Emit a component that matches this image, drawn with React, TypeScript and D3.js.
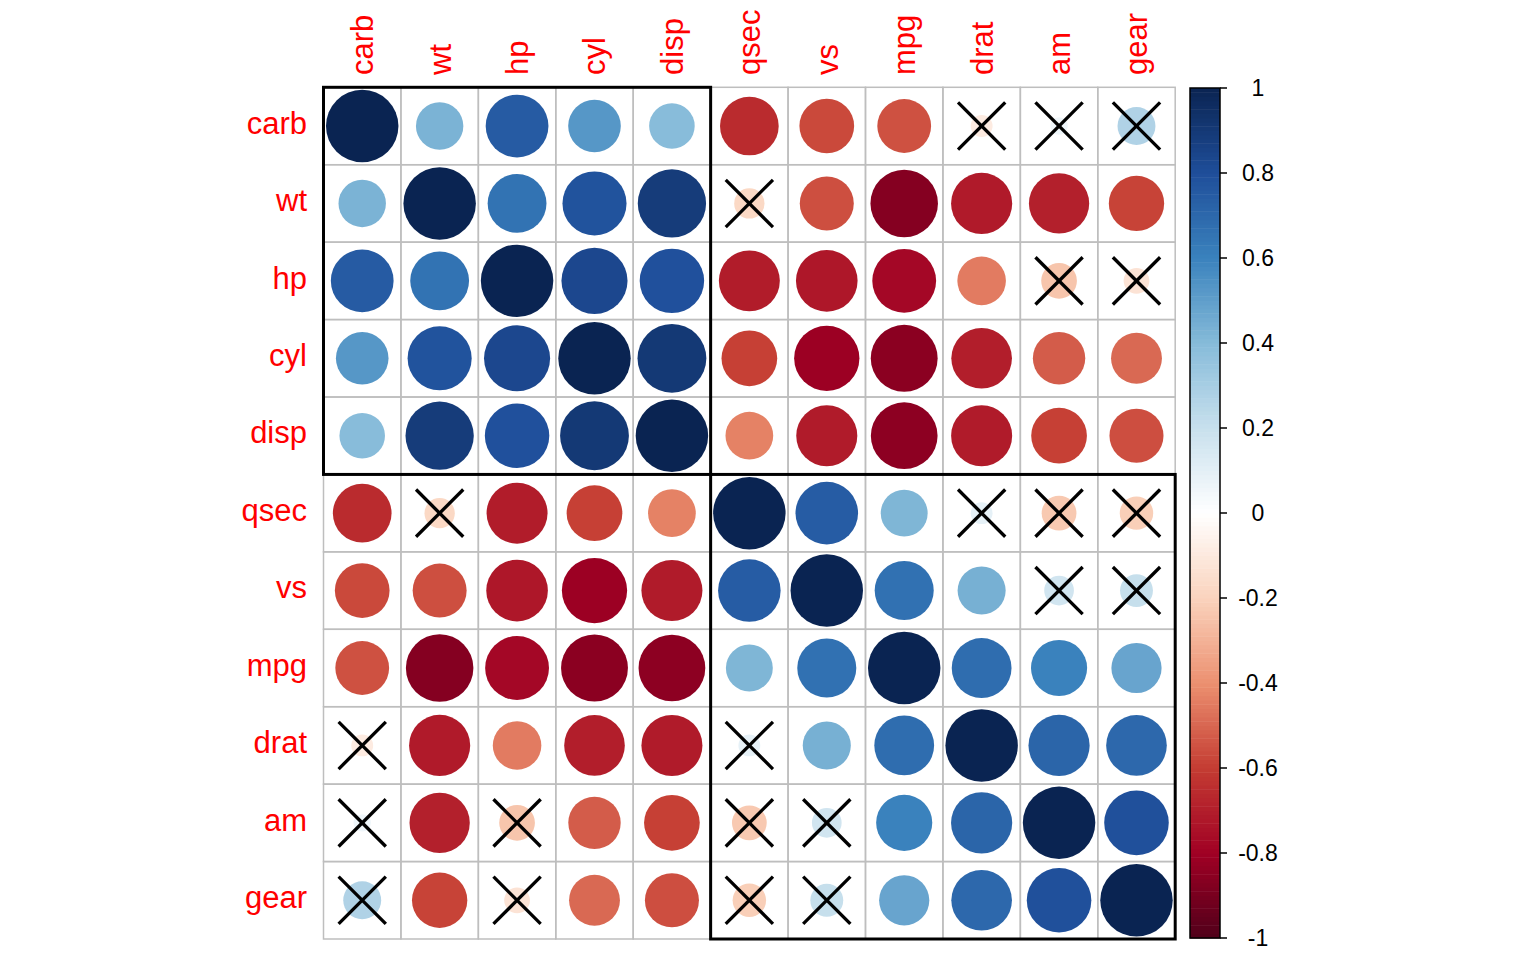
import React from "react"
import * as d3 from "d3"

// variables in hclust order
const vars = ["carb", "wt", "hp", "cyl", "disp", "qsec", "vs", "mpg", "drat", "am", "gear"]

// correlation matrix rows (same order as vars)
const rCarb = [1, 0.428, 0.75, 0.527, 0.395, -0.656, -0.57, -0.551, -0.091, 0.058, 0.274]
const rWt = [0.428, 1, 0.659, 0.782, 0.888, -0.175, -0.555, -0.868, -0.712, -0.692, -0.583]
const rHp = [0.75, 0.659, 1, 0.832, 0.791, -0.708, -0.723, -0.776, -0.449, -0.243, -0.126]
const rCyl = [0.527, 0.782, 0.832, 1, 0.902, -0.591, -0.811, -0.852, -0.7, -0.523, -0.493]
const rDisp = [0.395, 0.888, 0.791, 0.902, 1, -0.434, -0.71, -0.848, -0.71, -0.591, -0.556]
const rQsec = [-0.656, -0.175, -0.708, -0.591, -0.434, 1, 0.745, 0.419, 0.091, -0.23, -0.213]
const rVs = [-0.57, -0.555, -0.723, -0.811, -0.71, 0.745, 1, 0.664, 0.44, 0.168, 0.206]
const rMpg = [-0.551, -0.868, -0.776, -0.852, -0.848, 0.419, 0.664, 1, 0.681, 0.6, 0.48]
const rDrat = [-0.091, -0.712, -0.449, -0.7, -0.71, 0.091, 0.44, 0.681, 1, 0.713, 0.7]
const rAm = [0.058, -0.692, -0.243, -0.523, -0.591, -0.23, 0.168, 0.6, 0.713, 1, 0.794]
const rGear = [0.274, -0.583, -0.126, -0.493, -0.556, -0.213, 0.206, 0.48, 0.7, 0.794, 1]
const corr = [rCarb, rWt, rHp, rCyl, rDisp, rQsec, rVs, rMpg, rDrat, rAm, rGear]

// pairs with p > 0.05
const insignificant: [string, string][] = [
  ["carb", "drat"], ["carb", "am"], ["carb", "gear"],
  ["wt", "qsec"], ["hp", "am"], ["hp", "gear"],
  ["qsec", "drat"], ["qsec", "am"], ["qsec", "gear"],
  ["vs", "am"], ["vs", "gear"],
]

// hclust clusters (k = 2)
const clusters = [["carb", "wt", "hp", "cyl", "disp"], ["qsec", "vs", "mpg", "drat", "am", "gear"]]

const legendTicks = [1, 0.8, 0.6, 0.4, 0.2, 0, -0.2, -0.4, -0.6, -0.8, -1]

// red-blue palette, -1 .. 1
const PALETTE = ["#50001A", "#A00024", "#C43C32", "#EC9070", "#FAD3BD", "#FFFFFF",
  "#C8E0ED", "#86BBD9", "#3A82BD", "#1F4E9A", "#0A2452"]

const FONT = "'Liberation Sans', Arial, Helvetica, sans-serif"
const GRID = { left: 323.5, top: 87.3, size: 851.7 }
const LEGEND = { x: 1190, w: 30, top: 88, bottom: 938 }

export default function App() {
  const x = d3.scaleBand<string>().domain(vars).range([GRID.left, GRID.left + GRID.size])
  const y = d3.scaleBand<string>().domain(vars).range([GRID.top, GRID.top + GRID.size])
  const bw = x.bandwidth()

  const color = d3.scaleLinear<string>()
    .domain(d3.range(PALETTE.length).map((i) => -1 + (2 * i) / (PALETTE.length - 1)))
    .range(PALETTE)
    .interpolate(d3.interpolateRgb)

  const isInsig = (a: string, b: string) =>
    insignificant.some(([p, q]) => (p === a && q === b) || (p === b && q === a))

  const ly = d3.scaleLinear().domain([-1, 1]).range([LEGEND.bottom, LEGEND.top])
  const nSteps = 200
  const steps = d3.range(nSteps).map((i) => -1 + (2 * (i + 0.5)) / nSteps)
  const stepH = (LEGEND.bottom - LEGEND.top) / nSteps

  const cross = bw * 0.305

  return (
    <svg width={1536} height={960} style={{ position: "absolute", left: 0, top: 0, background: "#fff" }}>
      {/* cells */}
      {vars.map((row, i) =>
        vars.map((col, j) => {
          const v = corr[i][j]
          const cx = x(col)! + bw / 2
          const cy = y(row)! + bw / 2
          return (
            <g key={`${row}-${col}`}>
              <rect x={x(col)} y={y(row)} width={bw} height={bw} fill="none" stroke="#BEBEBE" strokeWidth={1.5} />
              <circle cx={cx} cy={cy} r={bw * 0.468 * Math.sqrt(Math.abs(v))} fill={color(v)} />
              {isInsig(row, col) && (
                <g stroke="#000" strokeWidth={3.3}>
                  <line x1={cx - cross} y1={cy - cross} x2={cx + cross} y2={cy + cross} />
                  <line x1={cx - cross} y1={cy + cross} x2={cx + cross} y2={cy - cross} />
                </g>
              )}
            </g>
          )
        })
      )}

      {/* cluster rectangles */}
      {clusters.map((c) => {
        const x0 = x(c[0])!
        const x1 = x(c[c.length - 1])! + bw
        return (
          <rect key={c[0]} x={x0} y={y(c[0])} width={x1 - x0} height={x1 - x0}
            fill="none" stroke="#000" strokeWidth={3} />
        )
      })}

      {/* row labels */}
      {vars.map((v) => (
        <text key={`r-${v}`} x={307} y={y(v)! + bw / 2} dy="0.25em" textAnchor="end"
          fill="#FF0000" fontSize={31} fontFamily={FONT}>{v}</text>
      ))}

      {/* column labels */}
      {vars.map((v) => {
        const cx = x(v)! + bw / 2
        return (
          <text key={`c-${v}`} transform={`translate(${cx + 11},75) rotate(-90)`} textAnchor="start"
            fill="#FF0000" fontSize={31} fontFamily={FONT}>{v}</text>
        )
      })}

      {/* color legend */}
      {steps.map((s, i) => (
        <rect key={`s-${i}`} x={LEGEND.x} y={ly(s) - stepH / 2} width={LEGEND.w} height={stepH + 0.5} fill={color(s)} />
      ))}
      <rect x={LEGEND.x} y={LEGEND.top} width={LEGEND.w} height={LEGEND.bottom - LEGEND.top}
        fill="none" stroke="#000" strokeWidth={1.5} />
      {legendTicks.map((t) => (
        <g key={`t-${t}`}>
          <line x1={LEGEND.x + LEGEND.w} x2={LEGEND.x + LEGEND.w + 7} y1={ly(t)} y2={ly(t)} stroke="#000" strokeWidth={1.5} />
          <text x={1258} y={ly(t)} dy="0.36em" textAnchor="middle" fontSize={23} fontFamily={FONT} fill="#000">{t}</text>
        </g>
      ))}
    </svg>
  )
}
